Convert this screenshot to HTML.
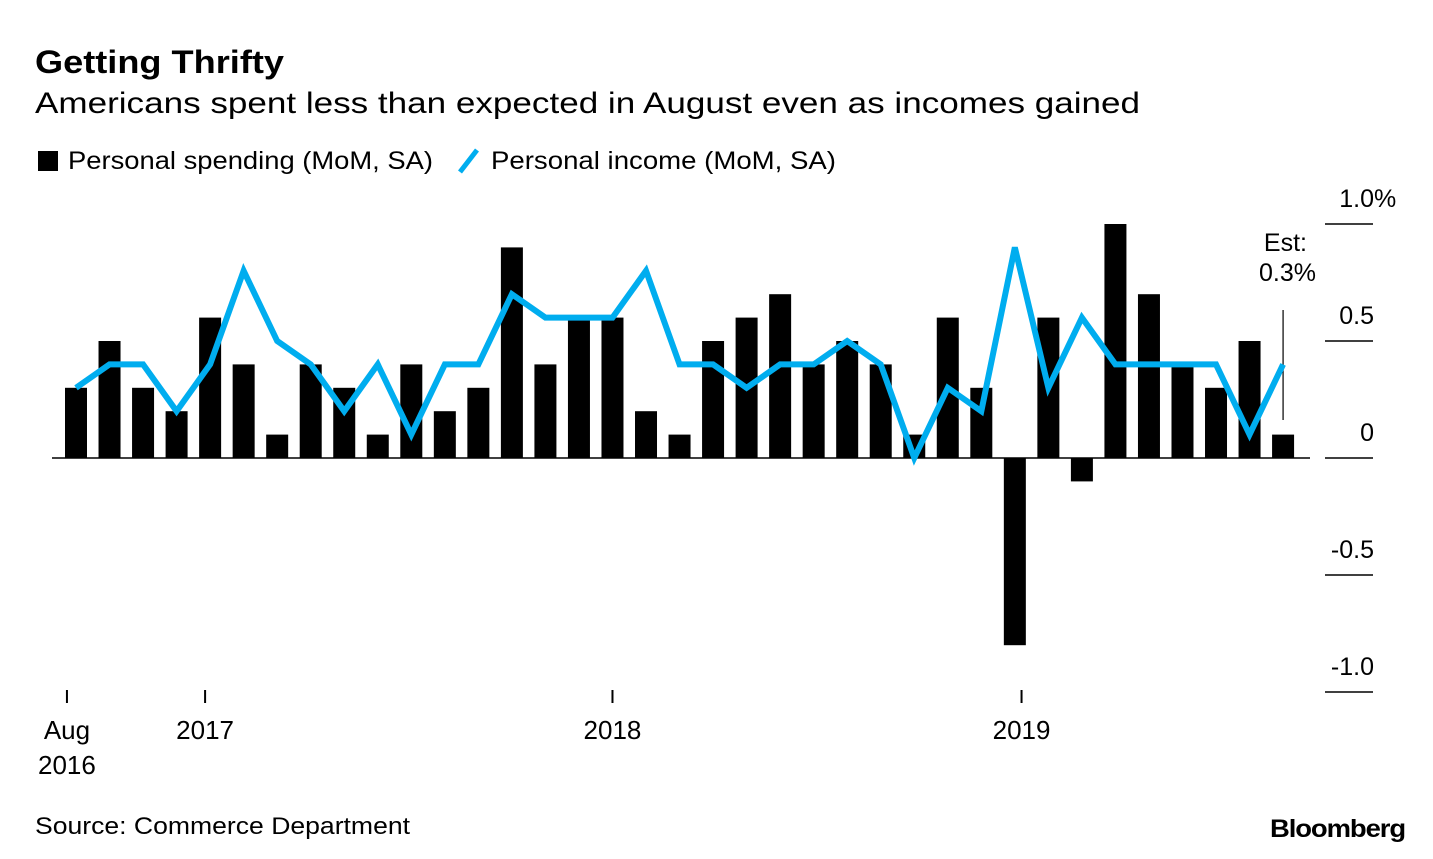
<!DOCTYPE html>
<html><head><meta charset="utf-8"><style>
body{margin:0;background:#fff;width:1433px;height:854px;overflow:hidden;font-family:"Liberation Sans",sans-serif;}
svg text{font-family:"Liberation Sans",sans-serif;}
</style></head><body>
<svg id="chart" width="1433" height="854">
<text x="35" y="73" font-size="32" font-weight="bold" fill="#000" textLength="249" lengthAdjust="spacingAndGlyphs">Getting Thrifty</text>
<text x="35" y="113" font-size="30" fill="#000" textLength="1105" lengthAdjust="spacingAndGlyphs">Americans spent less than expected in August even as incomes gained</text>
<g>
<rect x="38" y="151" width="20" height="20" fill="#000"/>
<text x="68" y="169" font-size="25" textLength="365" lengthAdjust="spacingAndGlyphs">Personal spending (MoM, SA)</text>
<line x1="460" y1="172" x2="477" y2="150" stroke="#00adef" stroke-width="5"/>
<text x="491" y="169" font-size="25" textLength="345" lengthAdjust="spacingAndGlyphs">Personal income (MoM, SA)</text>
</g>
<g id="plot"></g>
<text x="35" y="834" font-size="24" textLength="375" lengthAdjust="spacingAndGlyphs">Source: Commerce Department</text>
<text x="1270" y="837" font-size="25" font-weight="bold" textLength="135" lengthAdjust="spacingAndGlyphs" letter-spacing="-1">Bloomberg</text>
</svg>
<script>
const spending=[0.3,0.5,0.3,0.2,0.6,0.4,0.1,0.4,0.3,0.1,0.4,0.2,0.3,0.9,0.4,0.6,0.6,0.2,0.1,0.5,0.6,0.7,0.4,0.5,0.4,0.1,0.6,0.3,-0.8,0.6,-0.1,1.0,0.7,0.4,0.3,0.5,0.1];
const income=[0.3,0.4,0.4,0.2,0.4,0.8,0.5,0.4,0.2,0.4,0.1,0.4,0.4,0.7,0.6,0.6,0.6,0.8,0.4,0.4,0.3,0.4,0.4,0.5,0.4,0.0,0.3,0.2,0.9,0.3,0.6,0.4,0.4,0.4,0.4,0.1,0.4];
const yTicks=[1.0,0.5,0,-0.5,-1.0];
const yTickLabels=["1.0","0.5","0","-0.5","-1.0"];
const xTickPos=[-0.27,3.85,16.0,28.2];
const xTickLabels=[["Aug","2016"],["2017"],["2018"],["2019"]];
const estimate="0.3%";

const NS="http://www.w3.org/2000/svg";
const g=document.getElementById('plot');
const x=i=>76+i*33.53;
const y=v=>458-v*234;
function mk(t,a){const e=document.createElementNS(NS,t);for(const k in a)e.setAttribute(k,a[k]);g.appendChild(e);return e;}

yTicks.forEach((v,i)=>{
  const l=mk('line',{x1:1325,x2:1373,y1:y(v),y2:y(v),stroke:'#000','stroke-width':1.5});
  
  
  const t=mk('text',{x:1374,y:y(v)-17,'font-size':25,'text-anchor':'end'});
  t.textContent=yTickLabels[i];
  
  
  if(i===0){
    const p=mk('text',{x:1374,y:y(v)-17,'font-size':25});
    p.textContent='%';
    
    
  }
});
spending.forEach((v,i)=>{
  const b=mk('rect',{x:x(i)-11,y:Math.min(y(v),y(0)),width:22,height:Math.abs(y(v)-y(0)),fill:'#000'});
  
  
});
const base=mk('line',{x1:52,x2:1310,y1:y(0),y2:y(0),stroke:'#000','stroke-width':1.5});


const n=spending.length-1;
const el=mk('line',{x1:x(n),x2:x(n),y1:310,y2:420,stroke:'#000','stroke-width':1.2});


const e1=mk('text',{x:1307,y:251,'font-size':25,'text-anchor':'end'});e1.textContent='Est:';


const e2=mk('text',{x:1316,y:281,'font-size':25,'text-anchor':'end'});e2.textContent=estimate;


const pl=mk('polyline',{points:income.map((v,i)=>x(i)+','+y(v)).join(' '),fill:'none',stroke:'#00adef','stroke-width':6,'stroke-linejoin':'miter'});


xTickPos.forEach((p,i)=>{
  const tx=x(p);
  const l=mk('line',{x1:tx,x2:tx,y1:690,y2:703,stroke:'#000','stroke-width':2});
  
  
  xTickLabels[i].forEach((s,j)=>{
    const t=mk('text',{x:tx,y:739+j*35,'font-size':26,'text-anchor':'middle'});
    t.textContent=s;
    
    
  });
});
</script>
</body></html>
